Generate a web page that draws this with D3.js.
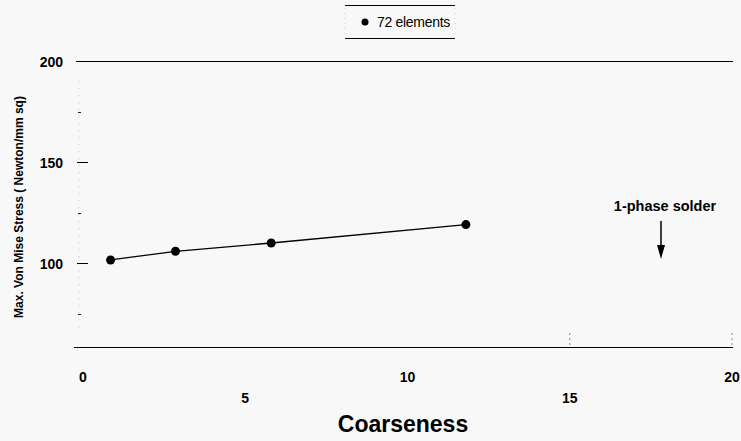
<!DOCTYPE html>
<html><head><meta charset="utf-8">
<script src="https://cdn.jsdelivr.net/npm/d3@7"></script>
<style>
html,body{margin:0;padding:0;background:#f8f8f8;}
svg{display:block;font-family:"Liberation Sans",Arial,sans-serif;}
</style></head>
<body><svg id="c" width="741" height="441"></svg>
<script>
const coarseness = [0.85, 2.85, 5.8, 11.8];
const stress = [101.5, 105.8, 109.9, 119.0];
const seriesName = "72 elements";
const xTicks = [0, 5, 10, 15, 20];
const yMajor = [100, 150, 200];
const yMinor = [75, 125, 175];

const svg = d3.select("#c");
const x = d3.scaleLinear().domain([0, 20]).range([83, 732]);
const y = d3.scaleLinear().domain([100, 200]).range([263, 61]);
const yMin = 58.4;

// frame lines
svg.append("line").attr("x1", 76).attr("x2", 733).attr("y1", y(200) + 0.5).attr("y2", y(200) + 0.5)
  .attr("stroke", "#000").attr("stroke-width", 1).attr("shape-rendering", "crispEdges");
svg.append("line").attr("x1", 74).attr("x2", 733).attr("y1", Math.round(y(yMin)) + 0.5).attr("y2", Math.round(y(yMin)) + 0.5)
  .attr("stroke", "#000").attr("stroke-width", 1).attr("shape-rendering", "crispEdges");

// faint dotted left axis
svg.append("line").attr("x1", 79).attr("x2", 79).attr("y1", y(190)).attr("y2", y(65))
  .attr("stroke", "#bbb").attr("stroke-width", 0.8).attr("stroke-dasharray", "1,6");

// y ticks
svg.selectAll(".ymaj").data(yMajor.filter(d => d < 200)).join("line")
  .attr("x1", 77).attr("x2", 88).attr("y1", d => Math.round(y(d)) + 0.5).attr("y2", d => Math.round(y(d)) + 0.5)
  .attr("stroke", "#000").attr("stroke-width", 1).attr("shape-rendering", "crispEdges");
svg.selectAll(".ymin").data(yMinor).join("line")
  .attr("x1", 78).attr("x2", 81).attr("y1", d => Math.round(y(d)) + 0.5).attr("y2", d => Math.round(y(d)) + 0.5)
  .attr("stroke", "#222").attr("stroke-width", 1).attr("shape-rendering", "crispEdges");
svg.selectAll(".ylab").data(yMajor).join("text")
  .attr("x", 63).attr("y", d => y(d) + 6).attr("text-anchor", "end")
  .attr("font-size", 14).attr("font-weight", "bold").attr("fill", "#000").text(d => d);

// x tick labels (alternating rows)
svg.selectAll(".xlab").data(xTicks).join("text")
  .attr("x", d => x(d)).attr("y", (d, i) => i % 2 === 0 ? 382 : 403)
  .attr("text-anchor", "middle").attr("font-size", 14).attr("font-weight", "bold")
  .attr("fill", "#000").text(d => d);
// faint x tick marks at 15 and 20
svg.selectAll(".xt").data([15, 20]).join("line")
  .attr("x1", d => x(d)).attr("x2", d => x(d)).attr("y1", y(yMin) - 14).attr("y2", y(yMin))
  .attr("stroke", "#666").attr("stroke-width", 0.8).attr("stroke-dasharray", "2,3");

// axis titles
svg.append("text").attr("x", 403).attr("y", 432).attr("text-anchor", "middle")
  .attr("font-size", 23).attr("font-weight", "bold").attr("fill", "#000").text("Coarseness");
svg.append("text").attr("transform", "translate(23,207) rotate(-90)").attr("text-anchor", "middle")
  .attr("font-size", 12).attr("font-weight", "bold").attr("fill", "#000")
  .text("Max. Von Mise Stress ( Newton/mm sq)");

// series
const pts = coarseness.map((c, i) => [c, stress[i]]);
svg.append("path").datum(pts)
  .attr("d", d3.line().x(d => x(d[0])).y(d => y(d[1])))
  .attr("fill", "none").attr("stroke", "#000").attr("stroke-width", 1.3);
svg.selectAll(".pt").data(pts).join("circle")
  .attr("cx", d => x(d[0])).attr("cy", d => y(d[1])).attr("r", 4.5).attr("fill", "#000");

// legend
svg.append("line").attr("x1", 345).attr("x2", 455).attr("y1", 5.5).attr("y2", 5.5).attr("stroke", "#000").attr("stroke-width", 1).attr("shape-rendering", "crispEdges");
svg.append("line").attr("x1", 345).attr("x2", 455).attr("y1", 38.5).attr("y2", 38.5).attr("stroke", "#000").attr("stroke-width", 1).attr("shape-rendering", "crispEdges");
svg.selectAll(".lgs").data([345, 455]).join("line")
  .attr("x1", d => d).attr("x2", d => d).attr("y1", 8).attr("y2", 36)
  .attr("stroke", "#bbb").attr("stroke-width", 0.8).attr("stroke-dasharray", "1,4");
svg.append("circle").attr("cx", 365).attr("cy", 22).attr("r", 3.5).attr("fill", "#000");
svg.append("text").attr("x", 377).attr("y", 27).attr("font-size", 14).attr("letter-spacing", -0.3).attr("fill", "#000").text(seriesName);

// annotation
svg.append("text").attr("x", 665).attr("y", 211).attr("text-anchor", "middle")
  .attr("font-size", 14.5).attr("font-weight", "bold").attr("fill", "#000").text("1-phase solder");
svg.append("line").attr("x1", 661).attr("x2", 661).attr("y1", 221).attr("y2", 250)
  .attr("stroke", "#000").attr("stroke-width", 1.5);
svg.append("path").attr("d", "M657,245 L665,245 L661,259 Z").attr("fill", "#000");
</script></body></html>
